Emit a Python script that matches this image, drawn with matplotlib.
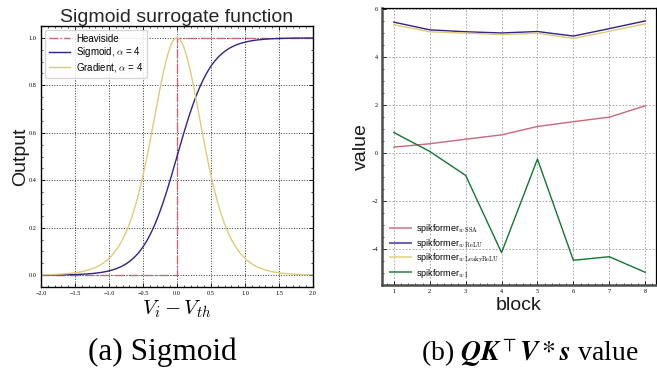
import numpy as np
import matplotlib
matplotlib.use("Agg")
from matplotlib import pyplot as plt
from matplotlib.ticker import MultipleLocator

plt.rcParams['font.family'] = ['Liberation Sans', 'DejaVu Sans']
plt.rcParams['mathtext.fontset'] = 'cm'
plt.rcParams['axes.unicode_minus'] = True

# ---- data ----
alpha = 4
x_range = (-2.0, 2.0)

blocks = [1, 2, 3, 4, 5, 6, 7, 8]
ssa = [0.25, 0.39, 0.58, 0.76, 1.11, 1.31, 1.50, 1.97]
relu = [5.46, 5.14, 5.06, 5.01, 5.07, 4.88, 5.19, 5.51]
leaky = [5.35, 5.06, 5.00, 4.94, 5.00, 4.78, 5.08, 5.39]
ident = [0.86, 0.07, -0.93, -4.15, -0.25, -4.47, -4.32, -4.97]
series_labels = [r'spikformer$_{w\ \mathrm{SSA}}$', r'spikformer$_{w\ \mathrm{ReLU}}$',
                 r'spikformer$_{w\ \mathrm{LeakyReLU}}$', r'spikformer$_{w\ \mathrm{I}}$']

colors = ['#CC6677', '#332288', '#DDCC77', '#117733']


def style_ticks(ax, sides):
    ax.tick_params(which='both', direction='in', **sides)
    ax.tick_params(which='major', length=3, width=0.6, labelsize=4.5, pad=3)
    ax.tick_params(which='minor', length=1.5, width=0.5)
    for lab in ax.get_xticklabels() + ax.get_yticklabels():
        lab.set_fontfamily('Liberation Serif')


fig = plt.figure(figsize=(6.57, 3.71), dpi=100)

# ---- (a) sigmoid surrogate ----
ax1 = fig.add_axes([0.0624, 0.2264, 0.414, 0.7035])
xs = np.linspace(x_range[0], x_range[1], 801)
sig = 1.0 / (1.0 + np.exp(-alpha * xs))
grad = 4 * sig * (1 - sig)

ax1.plot([x_range[0], 0, 0, x_range[1]], [0, 0, 1, 1], color=colors[0], ls='-.', lw=1.0, label='Heaviside')
ax1.plot(xs, sig, color=colors[1], lw=1.0, label=r'Sigmoid, $\alpha$ = 4')
ax1.plot(xs, grad, color=colors[2], lw=1.0, label=r'Gradient, $\alpha$ = 4')
ax1.set_xlim(*x_range)
ax1.set_ylim(-0.05, 1.05)
ax1.xaxis.set_major_locator(MultipleLocator(0.5))
ax1.xaxis.set_minor_locator(MultipleLocator(0.1))
ax1.yaxis.set_major_locator(MultipleLocator(0.2))
ax1.yaxis.set_minor_locator(MultipleLocator(0.05))
ax1.grid(True, ls=':', color='0.2', lw=0.7)
ax1.set_axisbelow(True)
style_ticks(ax1, dict(top=True, right=True))
for s in ax1.spines.values():
    s.set_linewidth(1.0)
ax1.set_title('Sigmoid surrogate function', fontsize=14, pad=2, color='0.15')
ax1.set_ylabel('Output', fontsize=14, labelpad=0, color='0.1')
ax1.set_xlabel(r'$V_i - V_{th}$', fontsize=15, labelpad=2)
ax1.legend(loc='upper left', fontsize=7, frameon=True, edgecolor='0.8',
           handlelength=2.2, handletextpad=0.6, borderaxespad=0.4, labelspacing=0.15)

# ---- (b) QK^T V * s value ----
ax2 = fig.add_axes([0.5814, 0.2318, 0.417, 0.7466])
for ys, c, lab in zip([ssa, relu, leaky, ident], colors, series_labels):
    ax2.plot(blocks, ys, color=c, lw=1.0, label=lab)
ax2.set_xlim(0.67, 8.3)
ax2.set_ylim(-5.5, 6.05)
ax2.xaxis.set_major_locator(MultipleLocator(1))
ax2.xaxis.set_minor_locator(MultipleLocator(0.2))
ax2.yaxis.set_major_locator(MultipleLocator(2))
ax2.yaxis.set_minor_locator(MultipleLocator(0.5))
ax2.grid(True, ls=(0, (2, 2)), color='0.6', lw=0.6)
ax2.set_axisbelow(True)
style_ticks(ax2, dict(top=False, right=False))
ax2.spines['left'].set_linewidth(1.8)
ax2.spines['left'].set_color('0.3')
ax2.spines['bottom'].set_linewidth(1.8)
ax2.spines['bottom'].set_color('0.3')
ax2.spines['top'].set_linewidth(0.9)
ax2.spines['right'].set_linewidth(0.9)
ax2.set_ylabel('value', fontsize=14, labelpad=1, color='0.1')
ax2.set_xlabel('block', fontsize=14, labelpad=2, color='0.1')
leg = ax2.legend(loc='lower left', fontsize=6.5, frameon=False, handlelength=2.3,
                 handletextpad=0.6, labelspacing=0.2, bbox_to_anchor=(0.0, -0.01))
for h in leg.get_lines():
    h.set_linewidth(1.5)
    h.set_alpha(0.7)

# ---- captions ----
fig.text(0.247, 0.05, '(a) Sigmoid', fontsize=22.5, family='Liberation Serif', ha='center', va='center')
fig.text(0.806, 0.05, r'(b) $\mathbfit{QK}^{\top}\mathbfit{V} * \mathbfit{s}$ value', fontsize=20,
         family='Liberation Serif', math_fontfamily='stix', ha='center', va='center')

fig.savefig('out.png', dpi=100)
